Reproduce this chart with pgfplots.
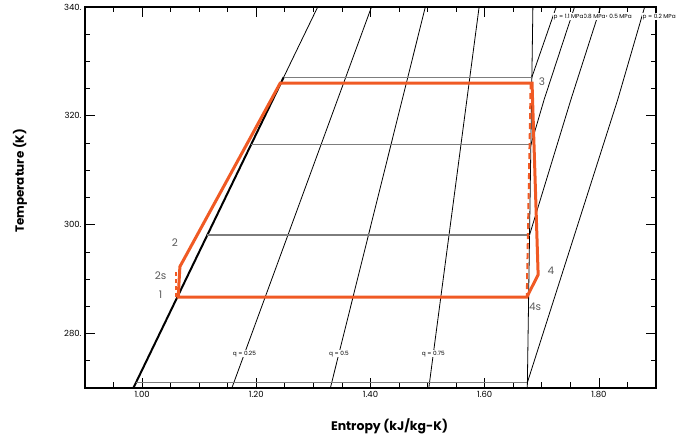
\documentclass[border=0pt]{standalone}
\usepackage{fontspec}
\setmainfont{Poppins}
\usepackage{pgfplots}
\pgfplotsset{compat=1.18}
\definecolor{cyc}{RGB}{240,90,36}
\definecolor{iso}{RGB}{125,125,125}
\definecolor{lbl}{RGB}{90,90,90}
\begin{document}
\begin{tikzpicture}
\begin{axis}[
  at={(0,0)}, anchor=south west,
  scale only axis, width=571bp, height=381bp,
  xmin=0.9, xmax=1.9, ymin=270, ymax=340,
  xtick={1.0,1.2,1.4,1.6,1.8},
  xticklabels={1.00,1.20,1.40,1.60,1.80},
  minor xtick={0.95,1.05,1.10,1.15,1.25,1.30,1.35,1.45,1.50,1.55,1.65,1.70,1.75,1.85},
  ytick={280,300,320,340},
  yticklabels={280.,300.,320.,340.},
  minor ytick={275,285,290,295,305,310,315,325,330,335},
  tick align=inside,
  major tick length=10bp, minor tick length=5.5bp,
  every tick/.style={black, line width=0.8bp},
  axis line style={black, line width=1.2bp},
  tick label style={font=\fontsize{8.5}{10}\selectfont},
  clip mode=individual,
]
% saturated liquid line
\addplot[black, line width=2bp] coordinates {(0.9847,270) (1.0308,280) (1.0769,290) (1.1230,300) (1.1691,310) (1.2152,320) (1.2480,327.1)};
\addplot[black, line width=0.8bp] coordinates {(1.2480,327.1) (1.2613,330) (1.3075,340)};
% quality lines
\addplot[black, line width=0.8bp] coordinates {(1.1572,270) (1.2795,305) (1.4017,340)};
\addplot[black, line width=0.8bp] coordinates {(1.3297,270) (1.4128,305) (1.4960,340)};
\addplot[black, line width=0.8bp] coordinates {(1.5021,270) (1.5462,305) (1.5902,340)};
\addplot[black, line width=0.8bp] coordinates {(1.6746,270) (1.6795,305) (1.6844,340)};
% isobars in two-phase region
\addplot[iso, line width=1.3bp] coordinates {(1.2480,327.1) (1.6826,327.1)};
\addplot[iso, line width=1.3bp] coordinates {(1.1908,314.7) (1.6809,314.7)};
\addplot[iso, line width=1.3bp] coordinates {(1.1143,298.1) (1.6785,298.1)};
\addplot[iso, line width=1.3bp] coordinates {(0.9893,271.0) (1.6747,271.0)};
% superheated isobars
\addplot[black, line width=0.8bp] coordinates {(1.6826,327.1) (1.7252,340)};
\addplot[black, line width=0.8bp] coordinates {(1.6809,314.7) (1.7041,323.0) (1.7573,340)};
\addplot[black, line width=0.8bp] coordinates {(1.6785,298.1) (1.7510,323.0) (1.8030,340)};
\addplot[black, line width=0.8bp] coordinates {(1.6747,271.0) (1.8330,323.0) (1.8801,340)};
% cycle
\addplot[cyc, line width=3bp] coordinates {(1.0632,286.7) (1.0662,292.3) (1.2418,326.0) (1.6829,326.0) (1.6936,290.8) (1.6737,286.7) (1.0632,286.7) (1.0662,292.3)};
\addplot[cyc, line width=2bp, dash pattern=on 4bp off 3bp] coordinates {(1.0600,286.7) (1.0600,291.4)};
\addplot[cyc, line width=2bp, dash pattern=on 6bp off 4bp] coordinates {(1.6805,326.0) (1.6737,286.7)};
% labels
\begin{scope}[every node/.style={font=\fontsize{5.8}{6.5}\selectfont, fill=white, inner sep=0.6bp}]
\node at (axis cs:1.1792,276.3) {q = 0.25};
\node at (axis cs:1.3447,276.3) {q = 0.5};
\node at (axis cs:1.5100,276.3) {q = 0.75};
\node[anchor=west] at (axis cs:1.8751,338.2) {p = 0.2 MPa};
\node[anchor=west] at (axis cs:1.7975,338.2) {p = 0.5 MPa};
\node[anchor=west] at (axis cs:1.7517,338.2) {p = 0.8 MPa};
\node[anchor=west] at (axis cs:1.7193,338.2) {p = 1.1 MPa};
\end{scope}
\begin{scope}[every node/.style={font=\fontsize{10.5}{12}\selectfont, text=lbl}]
\node at (axis cs:1.0323,287.1) {1};
\node at (axis cs:1.0323,290.6) {2s};
\node at (axis cs:1.0574,296.7) {2};
\node at (axis cs:1.7001,326.3) {3};
\node at (axis cs:1.7159,291.5) {4};
\node at (axis cs:1.6883,285.0) {4s};
\end{scope}
\end{axis}
\node[font=\bfseries\fontsize{12.5}{14}\selectfont] at (304.5bp,-38bp) {Entropy (kJ/kg-K)};
\node[font=\bfseries\fontsize{12}{14}\selectfont, rotate=90] at (-65bp,207bp) {Temperature (K)};
\pgfresetboundingbox
\useasboundingbox (-85bp,-53bp) rectangle (596bp,388bp);
\end{tikzpicture}
\end{document}
